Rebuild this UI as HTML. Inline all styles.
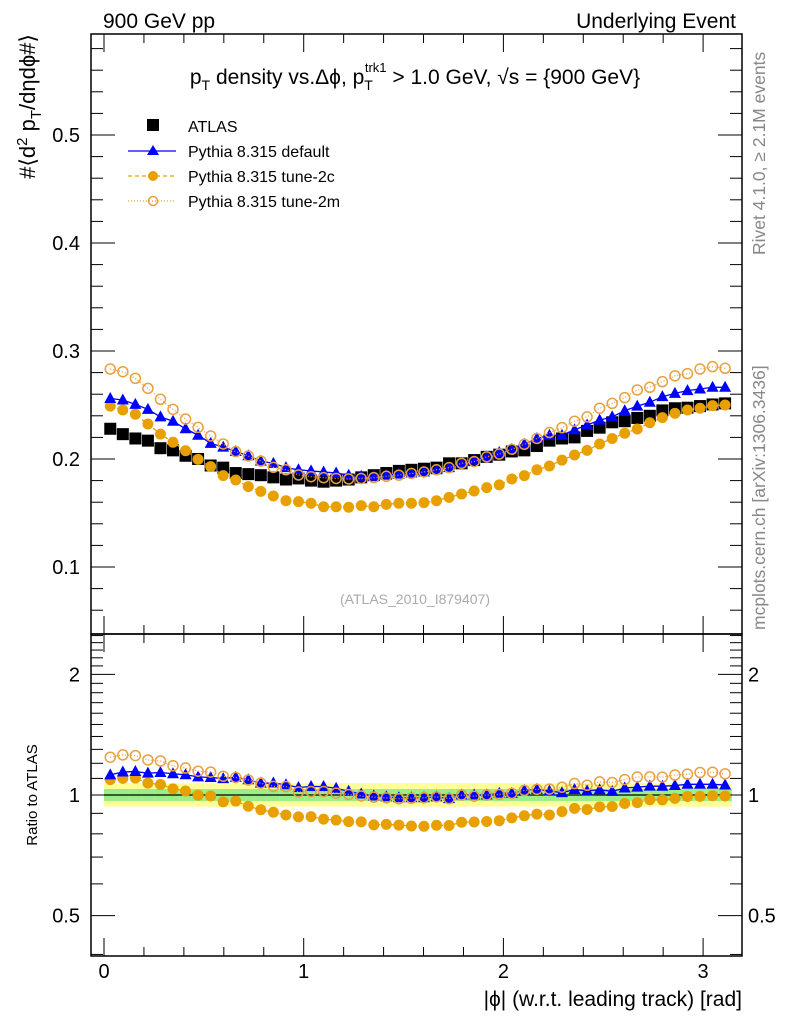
<!DOCTYPE html>
<html><head><meta charset="utf-8"><style>
body{margin:0;background:#fff}
svg text{font-family:"Liberation Sans",sans-serif}
</style></head><body>
<svg id="c" width="786" height="1024" xmlns="http://www.w3.org/2000/svg">
<rect width="786" height="1024" fill="#fff"/>
<g id="g"></g>
<text x="103" y="28" font-size="21">900 GeV pp</text>
<text x="736" y="28" font-size="21" text-anchor="end">Underlying Event</text>
<text x="415" y="84" font-size="21" text-anchor="middle">p<tspan font-size="14" dy="6">T</tspan><tspan dy="-6"> density vs.Δϕ, p</tspan><tspan font-size="14" dy="6">T</tspan><tspan font-size="13" dx="-8" dy="-18">trk1</tspan><tspan dy="12"> &gt; 1.0 GeV, √s = {900 GeV}</tspan></text>
<text transform="translate(35,34) rotate(-90)" font-size="22" text-anchor="end">#⟨d<tspan font-size="15" dy="-8">2</tspan><tspan dy="8"> p</tspan><tspan font-size="15" dy="6">T</tspan><tspan dy="-6">/dηdϕ#⟩</tspan></text>
<text transform="translate(37,795) rotate(-90)" font-size="15" text-anchor="middle">Ratio to ATLAS</text>
<text x="742" y="1006" font-size="21" text-anchor="end">|ϕ| (w.r.t. leading track) [rad]</text>
<text x="415" y="604" font-size="14" fill="#aaa" text-anchor="middle">(ATLAS_2010_I879407)</text>
<text transform="translate(765,255) rotate(-90)" font-size="17.5" fill="#888">Rivet 4.1.0, ≥ 2.1M events</text>
<text transform="translate(765,630) rotate(-90)" font-size="17.5" fill="#888">mcplots.cern.ch [arXiv:1306.3436]</text>
<g>
<rect x="147" y="119" width="12" height="12" fill="#000"/>
<text x="188" y="132" font-size="16">ATLAS</text>
<line x1="128" y1="151" x2="176" y2="151" stroke="#00f" stroke-width="1.3"/>
<polygon points="153,145 159,155 147,155" fill="#00f"/>
<text x="188" y="157" font-size="16">Pythia 8.315 default</text>
<line x1="128" y1="176" x2="176" y2="176" stroke="#e8a000" stroke-width="1.3" stroke-dasharray="4,3"/>
<circle cx="153" cy="176" r="5" fill="#e8a000"/>
<text x="188" y="182" font-size="16">Pythia 8.315 tune-2c</text>
<line x1="128" y1="201" x2="176" y2="201" stroke="#e8a040" stroke-width="1.3" stroke-dasharray="1,2"/>
<circle cx="153" cy="201" r="4.5" fill="none" stroke="#e8a040" stroke-width="1.5"/>
<text x="188" y="207" font-size="16">Pythia 8.315 tune-2m</text>
</g>
</svg>
<script>
const atlas=[0.228,0.223,0.219,0.217,0.210,0.208,0.203,0.200,0.194,0.192,0.187,0.186,0.185,0.183,0.181,0.182,0.180,0.179,0.180,0.181,0.183,0.185,0.187,0.189,0.190,0.191,0.192,0.196,0.196,0.199,0.202,0.204,0.207,0.208,0.212,0.217,0.219,0.220,0.226,0.229,0.234,0.235,0.238,0.240,0.245,0.247,0.2475,0.249,0.2505,0.2515];
const pyDefault=[0.256,0.2546,0.2506,0.246,0.239,0.235,0.228,0.222,0.2145,0.211,0.207,0.203,0.198,0.196,0.192,0.190,0.189,0.188,0.187,0.185,0.184,0.184,0.185,0.186,0.187,0.188,0.190,0.192,0.196,0.199,0.202,0.206,0.209,0.2136,0.219,0.222,0.222,0.227,0.2315,0.236,0.239,0.2447,0.249,0.2525,0.2577,0.2608,0.2633,0.2648,0.2664,0.2664];
const tune2c=[0.249,0.2454,0.2414,0.2324,0.223,0.2155,0.2077,0.1997,0.1929,0.1846,0.1806,0.1744,0.170,0.1657,0.1614,0.1605,0.159,0.1558,0.1558,0.1553,0.1568,0.1558,0.158,0.159,0.159,0.1596,0.1614,0.1645,0.1676,0.1704,0.1735,0.176,0.1815,0.1846,0.190,0.1935,0.199,0.2037,0.208,0.2139,0.219,0.2238,0.2278,0.2336,0.2383,0.2423,0.2454,0.247,0.2494,0.250];
const tune2m=[0.2833,0.2808,0.2747,0.2654,0.2553,0.246,0.237,0.2293,0.2213,0.2139,0.2068,0.2028,0.198,0.1923,0.190,0.1852,0.1836,0.1827,0.182,0.1815,0.182,0.1827,0.184,0.185,0.1866,0.188,0.190,0.192,0.196,0.1976,0.202,0.2046,0.209,0.2136,0.219,0.2245,0.229,0.235,0.239,0.247,0.2515,0.2568,0.2639,0.2664,0.2716,0.277,0.279,0.2833,0.2855,0.284];
const yTicks=[0.1,0.2,0.3,0.4,0.5];
const xTicks=[0,1,2,3];
const rTicks=[0.5,1,2];
const NS="http://www.w3.org/2000/svg";
const g=document.getElementById('g');
const L=91,R=742,T=34,M=634,B=956;
const X=v=>104+v*199.7;
const Y=v=>459-(v-0.2)*1080;
const RY=v=>795-174*Math.log(v);
const bx=i=>X((i+0.5)*Math.PI/atlas.length);
function el(t,a,p){const e=document.createElementNS(NS,t);for(const k in a)e.setAttribute(k,a[k]);(p||g).appendChild(e);return e;}
for(let i=0;i<atlas.length;i++){const x0=X(i*Math.PI/atlas.length),x1=X((i+1)*Math.PI/atlas.length);
const b1=el('rect',{x:x0,y:RY(1.07),width:x1-x0+0.5,height:RY(0.935)-RY(1.07),fill:'#ffff99'});


const b2=el('rect',{x:x0,y:RY(1.035),width:x1-x0+0.5,height:RY(0.966)-RY(1.035),fill:'#99ee88'});

}
const one=el('line',{x1:X(0),x2:X(Math.PI),y1:RY(1),y2:RY(1),stroke:'#000','stroke-width':1.3});


const f1=el('rect',{x:L,y:T,width:R-L,height:M-T,fill:'none',stroke:'#000','stroke-width':1.5});


const f2=el('rect',{x:L,y:M,width:R-L,height:B-M,fill:'none',stroke:'#000','stroke-width':1.5});


function tick(x1,y1,x2,y2){el('line',{x1,y1,x2,y2,stroke:'#000','stroke-width':1});}
for(let v=0;v<=3.15;v+=0.2){const x=X(v),maj=Math.abs(v-Math.round(v))<1e-6,l=maj?18:9;
[T,M].forEach(y=>tick(x,y,x,y+l));[M,B].forEach(y=>tick(x,y,x,y-l));}
xTicks.forEach(v=>{const t=el('text',{x:X(v),y:978,'font-size':20,'text-anchor':'middle'});t.textContent=v;

});
for(let k=3;k<=29;k++){const v=k*0.02,y=Y(v);if(y<T||y>M)continue;const maj=k%5==0,l=maj?24:12;tick(L,y,L+l,y);tick(R,y,R-l,y);}
yTicks.forEach(v=>{const t=el('text',{x:80,y:Y(v)+7,'font-size':20,'text-anchor':'end'});t.textContent=v.toFixed(1);

});
for(let k=4;k<=25;k++){const v=k/10,y=RY(v);if(y<M||y>B)continue;const maj=(k==5||k==10||k==20),l=maj?24:12;tick(L,y,L+l,y);tick(R,y,R-l,y);}
rTicks.forEach(v=>{[[80,'end'],[748,'start']].forEach(([x,a])=>{const t=el('text',{x,y:RY(v)+7,'font-size':20,'text-anchor':a});t.textContent=v;

});});
function line(arr,fy,col,dash,name){const p=el('polyline',{points:arr.map((v,i)=>bx(i)+','+fy(v)).join(' '),fill:'none',stroke:col,'stroke-width':1.3,'stroke-dasharray':dash});

}
function marks(arr,fy,type,name){arr.forEach((v,i)=>{const x=bx(i),y=fy(v);let e;
if(type=='sq')e=el('rect',{x:x-6,y:y-6,width:12,height:12,fill:'#000'});
else if(type=='tri')e=el('polygon',{points:`${x},${y-6.5} ${x+6},${y+4.5} ${x-6},${y+4.5}`,fill:'#00f'});
else if(type=='dot')e=el('circle',{cx:x,cy:y,r:5.5,fill:'#e8a000'});
else{e=el('circle',{cx:x,cy:y,r:5,fill:'none',stroke:'#e8a040','stroke-width':1.5});}

});}
const ratio=a=>a.map((v,i)=>v/atlas[i]);
marks(atlas,Y,'sq','atlas-point');
line(tune2c,Y,'#e8a000','4,3','tune-2c-line');marks(tune2c,Y,'dot','tune-2c-point');
line(pyDefault,Y,'#00f','','default-line');marks(pyDefault,Y,'tri','default-point');
line(tune2m,Y,'#e8a040','1,2','tune-2m-line');marks(tune2m,Y,'open','tune-2m-point');
const rd=ratio(pyDefault),rc=ratio(tune2c),rm=ratio(tune2m);
line(rc,RY,'#e8a000','4,3','ratio-tune-2c-line');marks(rc,RY,'dot','ratio-tune-2c-point');
line(rd,RY,'#00f','','ratio-default-line');marks(rd,RY,'tri','ratio-default-point');
line(rm,RY,'#e8a040','1,2','ratio-tune-2m-line');marks(rm,RY,'open','ratio-tune-2m-point');
</script>
</body></html>
